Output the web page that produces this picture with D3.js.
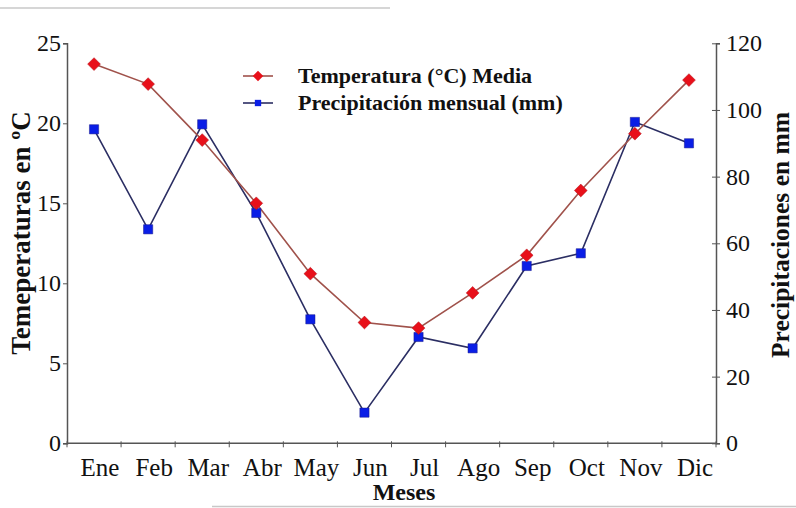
<!DOCTYPE html>
<html>
<head>
<meta charset="utf-8">
<script src="https://cdn.jsdelivr.net/npm/d3@7/dist/d3.min.js"></script>
<style>
  html, body { margin: 0; padding: 0; background: #fff; }
  svg { display: block; }
  text { font-family: "Liberation Serif", "Times New Roman", serif; fill: #111; }
</style>
</head>
<body>
<svg id="chart" width="796" height="508"></svg>
<script>
// Monthly climate data
const months = ["Ene", "Feb", "Mar", "Abr", "May", "Jun", "Jul", "Ago", "Sep", "Oct", "Nov", "Dic"];
const temperatura = [23.7, 22.45, 18.95, 15.0, 10.6, 7.55, 7.2, 9.4, 11.75, 15.8, 19.35, 22.7];
const precipitacion = [94.2, 64.2, 95.7, 69.1, 37.2, 9.2, 31.9, 28.5, 53.2, 57.0, 96.4, 90.0];
const tempTicks = [0, 5, 10, 15, 20, 25];
const precTicks = [0, 20, 40, 60, 80, 100, 120];

const svg = d3.select("#chart");
const plotLeft = 67, plotRight = 716, plotTop = 43.3, plotBottom = 443.3;

const x = d3.scaleBand().domain(months).range([plotLeft, plotRight]).padding(0);
const yT = d3.scaleLinear().domain([0, 25]).range([plotBottom, plotTop]);
const yP = d3.scaleLinear().domain([0, 120]).range([plotBottom, plotTop]);
const cx = m => x(m) + x.bandwidth() / 2;

const axisColor = "#555";

// thin grey rules at the page edges
svg.append("line").attr("x1", 0).attr("x2", 390).attr("y1", 8).attr("y2", 8)
  .attr("stroke", "#c8c8c8").attr("stroke-width", 1.5);
svg.append("line").attr("x1", 212).attr("x2", 796).attr("y1", 506.5).attr("y2", 506.5)
  .attr("stroke", "#c8c8c8").attr("stroke-width", 1.5);

// left axis (temperature)
const gL = svg.append("g").attr("transform", `translate(${plotLeft},0)`)
  .call(d3.axisLeft(yT).tickValues(tempTicks).tickSize(4).tickPadding(2));
// right axis (precipitation)
const gR = svg.append("g").attr("transform", `translate(${plotRight},0)`)
  .call(d3.axisRight(yP).tickValues(precTicks).tickSize(4).tickPadding(6));
// bottom axis (months); ticks at band boundaries
const boundaries = d3.range(months.length + 1).map(i => plotLeft + i * x.bandwidth());
const gB = svg.append("g").attr("transform", `translate(0,${plotBottom})`);
gB.append("line").attr("x1", plotLeft).attr("x2", plotRight).attr("stroke", axisColor).attr("stroke-width", 1.5);
gB.selectAll("line.tk").data(boundaries).join("line").attr("class", "tk")
  .attr("x1", d => d).attr("x2", d => d).attr("y1", -2).attr("y2", 4)
  .attr("stroke", axisColor).attr("stroke-width", 1);
gB.selectAll("text").data(months).join("text")
  .attr("x", d => cx(d) + 6).attr("y", 33)
  .attr("text-anchor", "middle").style("font-size", "25px").text(d => d);

[gL, gR].forEach(g => {
  g.select(".domain").attr("stroke", axisColor).attr("stroke-width", 1.5);
  g.selectAll(".tick line").attr("stroke", axisColor);
  g.selectAll(".tick text").style("font-size", "24px").attr("fill", "#111")
    .style("font-family", '"Liberation Serif", "Times New Roman", serif');
});
gR.selectAll(".tick line").attr("x1", -4);
gL.selectAll(".tick line").attr("x2", -4).attr("x1", 1);

// axis titles
svg.append("text").attr("x", 404).attr("y", 500).attr("text-anchor", "middle")
  .style("font-size", "24px").style("font-weight", "bold").text("Meses");
svg.append("text").attr("transform", "translate(30,233) rotate(-90)").attr("text-anchor", "middle")
  .style("font-size", "27px").style("font-weight", "bold").text("Temeperaturas en ºC");
svg.append("text").attr("transform", "translate(789,235) rotate(-90)").attr("text-anchor", "middle")
  .style("font-size", "25.5px").style("font-weight", "bold").text("Precipitaciones en mm");

// series lines
const lineT = d3.line().x((d, i) => cx(months[i])).y(d => yT(d));
const lineP = d3.line().x((d, i) => cx(months[i])).y(d => yP(d));
const tempLine = "#a0524b", tempMark = "#e8101a";
const precLine = "#2b2e63", precMark = "#0a1ee6";

svg.append("path").datum(precipitacion).attr("d", lineP)
  .attr("fill", "none").attr("stroke", precLine).attr("stroke-width", 1.6);
svg.append("path").datum(temperatura).attr("d", lineT)
  .attr("fill", "none").attr("stroke", tempLine).attr("stroke-width", 1.6);

const diamond = d3.symbol().type(d3.symbolDiamond2).size(105);
const square = d3.symbol().type(d3.symbolSquare).size(85);

svg.selectAll("path.pm").data(precipitacion).join("path").attr("class", "pm")
  .attr("d", square).attr("transform", (d, i) => `translate(${cx(months[i])},${yP(d)})`)
  .attr("fill", precMark).attr("stroke", "#1a1a8a").attr("stroke-width", 0.5);
svg.selectAll("path.tm").data(temperatura).join("path").attr("class", "tm")
  .attr("d", diamond).attr("transform", (d, i) => `translate(${cx(months[i])},${yT(d)})`)
  .attr("fill", tempMark).attr("stroke", "#b01018").attr("stroke-width", 0.5);

// legend
const legend = [
  { label: "Temperatura (°C) Media", line: tempLine, mark: tempMark, sym: d3.symbol().type(d3.symbolDiamond2).size(70), y: 76 },
  { label: "Precipitación mensual (mm)", line: precLine, mark: precMark, sym: d3.symbol().type(d3.symbolSquare).size(40), y: 103 }
];
const lg = svg.append("g");
legend.forEach(it => {
  lg.append("line").attr("x1", 243).attr("x2", 273).attr("y1", it.y).attr("y2", it.y)
    .attr("stroke", it.line).attr("stroke-width", 1.6);
  lg.append("path").attr("d", it.sym).attr("transform", `translate(258,${it.y})`).attr("fill", it.mark);
  lg.append("text").attr("x", 298).attr("y", it.y + 7)
    .style("font-size", "22px").style("font-weight", "bold").text(it.label);
});
</script>
</body>
</html>
